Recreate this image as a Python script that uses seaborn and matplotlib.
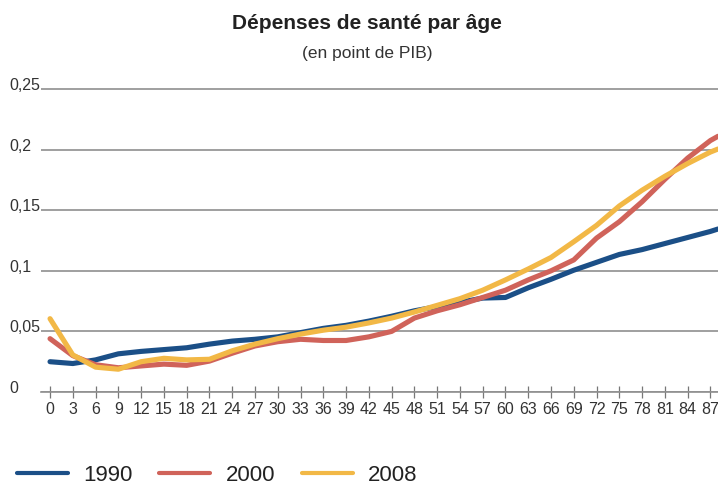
import matplotlib
matplotlib.use("Agg")
import matplotlib.pyplot as plt
import seaborn as sns
import pandas as pd
from matplotlib.lines import Line2D

# ages (every 3 years, plus the right edge of the curves)
ages = [0, 3, 6, 9, 12, 15, 18, 21, 24, 27, 30, 33, 36, 39, 42, 45, 48, 51,
        54, 57, 60, 63, 66, 69, 72, 75, 78, 81, 84, 87, 88]

dep_1990 = [0.025, 0.0235, 0.0265, 0.0315, 0.0335, 0.035, 0.0365, 0.0395, 0.042,
            0.0435, 0.0455, 0.049, 0.0525, 0.055, 0.0585, 0.0625, 0.067, 0.0705,
            0.074, 0.0775, 0.078, 0.086, 0.093, 0.1005, 0.107, 0.1135, 0.1175,
            0.1225, 0.1275, 0.1325, 0.1345]
dep_2000 = [0.044, 0.030, 0.0225, 0.020, 0.0215, 0.023, 0.022, 0.0255, 0.032,
            0.038, 0.0415, 0.0435, 0.0425, 0.0425, 0.0455, 0.050, 0.061, 0.067,
            0.072, 0.078, 0.084, 0.0925, 0.100, 0.109, 0.127, 0.1405, 0.157,
            0.1755, 0.193, 0.2075, 0.211]
dep_2008 = [0.0605, 0.0306, 0.0205, 0.0188, 0.025, 0.0278, 0.0265, 0.027, 0.034,
            0.0395, 0.044, 0.0478, 0.051, 0.0535, 0.057, 0.061, 0.066, 0.0715,
            0.077, 0.084, 0.0925, 0.1015, 0.111, 0.124, 0.1375, 0.1535, 0.1665,
            0.178, 0.1885, 0.198, 0.2005]

years = ["1990", "2000", "2008"]
colors = ["#1b4f87", "#d0635a", "#f2b846"]

xtick_ages = list(range(0, 88, 3))
ytick_vals = [0, 0.05, 0.1, 0.15, 0.2, 0.25]
ytick_labels = ["0", "0,05", "0,1", "0,15", "0,2", "0,25"]

df = pd.DataFrame({"age": ages, "1990": dep_1990, "2000": dep_2000, "2008": dep_2008})
df = df.melt(id_vars="age", var_name="year", value_name="dep")

sns.set_theme(style="white")
plt.rcParams["font.family"] = ["Liberation Sans Narrow", "Liberation Sans", "DejaVu Sans"]

W, H = 718, 485
fig = plt.figure(figsize=(W / 100, H / 100), dpi=100)
ax = fig.add_axes([41 / W, (H - 393) / H, (W - 41) / W, (393 - 87.6) / H])

sns.lineplot(data=df, x="age", y="dep", hue="year", hue_order=years,
             palette=colors, linewidth=3.7, solid_capstyle="round",
             legend=False, ax=ax)

ax.set_xlim(-1.19, 88)
ax.set_ylim(0, 0.252)
ax.set_xticks(xtick_ages)
ax.set_xticklabels([str(a) for a in xtick_ages])
ax.set_yticks(ytick_vals)
ax.set_yticklabels(ytick_labels)
ax.set_xlabel("")
ax.set_ylabel("")

ax.yaxis.grid(True, color="#8f8f8f", linewidth=1.2)
ax.xaxis.grid(False)
ax.set_axisbelow(True)
for s in ["top", "right", "left"]:
    ax.spines[s].set_visible(False)
ax.spines["bottom"].set_color("#8f8f8f")
ax.spines["bottom"].set_linewidth(1.2)

ax.tick_params(axis="x", bottom=True, direction="inout", length=8.6, width=0.9,
               color="#777777", pad=2.5, labelsize=11.5, labelcolor="#333333")
ax.tick_params(axis="y", left=True, length=0, pad=23, labelsize=11.5, labelcolor="#333333")
for lab in ax.get_yticklabels():
    lab.set_horizontalalignment("left")
    lab.set_verticalalignment("baseline")

fig.text(0.511, 0.952, "Dépenses de santé par âge", ha="center", va="center",
         fontsize=15, fontweight="bold", color="#222222",
         family=["Liberation Sans", "DejaVu Sans"])
fig.text(0.512, 0.889, "(en point de PIB)", ha="center", va="center",
         fontsize=12.5, color="#333333", family=["Liberation Sans", "DejaVu Sans"])

handles = [Line2D([], [], color=c, lw=3, solid_capstyle="round") for c in colors]
fig.legend(handles, years, loc="center left", bbox_to_anchor=(17 / W, 1 - 476 / H),
           ncol=3, frameon=False, handlelength=2.3, handletextpad=0.68,
           columnspacing=1.2, borderpad=0, borderaxespad=0,
           prop={"family": ["Liberation Sans", "DejaVu Sans"], "size": 16},
           labelcolor="#222222")

fig.savefig("out.png", dpi=100)
